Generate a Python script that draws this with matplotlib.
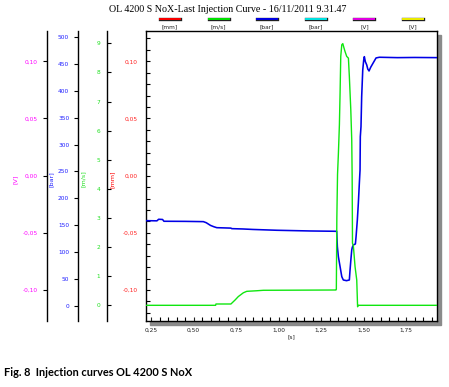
import matplotlib
matplotlib.use("Agg")
import matplotlib.pyplot as plt
import matplotlib.patheffects as pe
from matplotlib.ticker import FuncFormatter, MultipleLocator
from matplotlib.lines import Line2D
from matplotlib.patches import Rectangle

######################################
# Data
######################################

title = "OL 4200 S NoX-Last Injection Curve - 16/11/2011 9.31.47"
caption = "Fig. 8  Injection curves OL 4200 S NoX"

legend_units = ["[mm]", "[m/s]", "[bar]", "[bar]", "[V]", "[V]"]
legend_colors = ["#ff0000", "#00e600", "#0000e6", "#00e6e6", "#e600e6", "#f0f000"]

# pressure curve [bar]
t_bar = [0.222, 0.285, 0.295, 0.318, 0.326, 0.45, 0.558, 0.575, 0.60, 0.62, 0.637,
         0.72, 0.725, 0.79, 0.85, 0.99, 1.185, 1.342, 1.346, 1.352, 1.362, 1.372,
         1.381, 1.40, 1.4165, 1.4206, 1.4265, 1.4306, 1.434, 1.440, 1.452, 1.456,
         1.4635, 1.4694, 1.4753, 1.4794, 1.481, 1.485, 1.489, 1.4953, 1.501, 1.5047,
         1.5106, 1.5188, 1.525, 1.5324, 1.542, 1.5576, 1.5735, 1.593, 1.70, 1.80, 1.932]
p_bar = [158.8, 158.5, 161.4, 161.0, 157.7, 157.5, 157.0, 155.0, 150.0, 147.5, 145.8,
         145.0, 144.0, 143.4, 142.5, 141.0, 139.7, 139.1, 110.6, 92.0, 73.5, 55.0,
         48.8, 47.5, 48.8, 67.3, 90.0, 104.4, 109.4, 113.7, 115.6, 129.1,
         160.1, 191.1, 228.2, 252.8, 314.6, 333.2, 388.8, 438.3, 456.9, 463.0,
         453.7, 447.6, 440.0, 436.5, 443.3, 451.9, 460.6, 461.9, 461.2, 461.5, 461.2]

# velocity curve [m/s]
t_vel = [0.222, 0.630, 0.632, 0.72, 0.744, 0.7635, 0.793, 0.813, 0.872, 0.911, 1.10,
         1.338, 1.340, 1.343, 1.347, 1.352, 1.358, 1.362, 1.366, 1.372, 1.378, 1.385,
         1.391, 1.401, 1.411, 1.4165, 1.425, 1.4306, 1.433, 1.435, 1.440, 1.450,
         1.460, 1.465, 1.468, 1.932]
v_vel = [0.0, 0.0, 0.045, 0.045, 0.18, 0.30, 0.43, 0.48, 0.50, 0.516, 0.52,
         0.526, 0.55, 3.0, 4.5, 5.2, 6.2, 7.3, 8.55, 8.95, 8.99, 8.84,
         8.72, 8.55, 8.49, 7.86, 6.72, 5.68, 4.42, 2.13, 2.05, 1.33,
         0.87, -0.05, 0.0, 0.0]

x_ticks = [0.25, 0.50, 0.75, 1.00, 1.25, 1.50, 1.75]
mm_ticks = [-0.10, -0.05, 0.00, 0.05, 0.10]
bar_ticks = list(range(0, 501, 50))
vel_ticks = list(range(0, 10))


def comma(fmt):
    return FuncFormatter(lambda v, p: format(v, fmt).replace(".", ","))


######################################
# Figure layout
######################################

W, H = 449, 387
fig = plt.figure(figsize=(W / 100, H / 100), dpi=100)


def box(x0, y0, x1, y1):
    return [x0 / W, 1 - y1 / H, (x1 - x0) / W, (y1 - y0) / H]


ax = fig.add_axes(box(146, 31, 437, 321))
ax.set_facecolor("white")

# grey drop shadow behind the plot box
shadow = Rectangle((150 / W, 1 - 325 / H), 291 / W, 290 / H,
                   transform=fig.transFigure, color="#8a8a8a", zorder=-1)
fig.patches.append(shadow)

######################################
# Main axis [mm]
######################################

ax.set_xlim(0.2206, 1.932)
ax.set_ylim(-0.1271, 0.1265)
ax.set_xticks(x_ticks)
ax.xaxis.set_minor_locator(MultipleLocator(0.05))
ax.set_yticks(mm_ticks)
ax.yaxis.set_minor_locator(MultipleLocator(0.01))
ax.xaxis.set_major_formatter(comma(".2f"))
ax.yaxis.set_major_formatter(comma(".2f"))
ax.tick_params(axis="both", which="both", direction="in", length=3, width=0.8)
ax.tick_params(axis="x", labelsize=4.2, pad=5, colors="#202020")
ax.tick_params(axis="y", labelsize=4.2, pad=6, colors="black", labelcolor="#ff2020")
for s in ax.spines.values():
    s.set_linewidth(1.0)
ax.set_xlabel("[s]", fontsize=4.2, labelpad=1, color="#202020")
ax.set_ylabel("[mm]", fontsize=4.6, color="#ff0000")
ax.yaxis.set_label_coords(-0.1065, 0.49)


def side_axis(pos, color, label, label_x, direction):
    a = ax.twinx()
    a.patch.set_visible(False)
    for k in ("top", "right", "bottom"):
        a.spines[k].set_visible(False)
    a.spines["left"].set_visible(True)
    a.spines["left"].set_position(("axes", pos))
    a.spines["left"].set_linewidth(1.0)
    a.yaxis.tick_left()
    a.yaxis.set_label_position("left")
    a.tick_params(axis="y", direction=direction, length=3, width=0.8,
                  labelsize=4.2, colors="black", labelcolor=color, pad=3.5)
    a.set_ylabel(label, fontsize=4.6, color=color)
    a.yaxis.set_label_coords(label_x, 0.49)
    return a


ax_v = side_axis(-0.3412, "#ff00ff", "[V]", -0.440, "out")
ax_v.set_ylim(-0.1271, 0.1265)
ax_v.set_yticks(mm_ticks)
ax_v.yaxis.set_major_formatter(comma(".2f"))

ax_bar = side_axis(-0.2326, "#2020ff", "[bar]", -0.316, "out")
ax_bar.set_ylim(-27.3, 510.6)
ax_bar.set_yticks(bar_ticks)

ax_vel = side_axis(-0.133, "#20e020", "[m/s]", -0.206, "in")
ax_vel.set_ylim(-0.539, 9.4225)
ax_vel.set_yticks(vel_ticks)
ax_vel.tick_params(axis="y", pad=5)

######################################
# Curves
######################################

ax_vel.plot(t_vel, v_vel, color="#10e610", lw=1.0)
ax_bar.plot(t_bar, p_bar, color="#0000e6", lw=1.15)

######################################
# Texts and legend strip
######################################

fig.text(228 / W, 1 - 9 / H, title, ha="center", va="center",
         family="Liberation Serif", fontsize=7.2)

for i, (u, c) in enumerate(zip(legend_units, legend_colors)):
    xc = (170 + i * 48.6) / W
    ln = Line2D([xc - 10 / W, xc + 10 / W], [1 - 19 / H, 1 - 19 / H], color=c, lw=1.4,
                transform=fig.transFigure,
                path_effects=[pe.Stroke(linewidth=2.4, foreground="#202020"), pe.Normal()])
    fig.add_artist(ln)
    fig.text(xc, 1 - 26.5 / H, u, ha="center", va="center", fontsize=4.2, color="#202020")

fig.text(4 / W, 1 - 373 / H, caption, ha="left", va="center",
         family="Lato", fontweight="bold", fontsize=7.9)

fig.savefig("out.png", dpi=100)
